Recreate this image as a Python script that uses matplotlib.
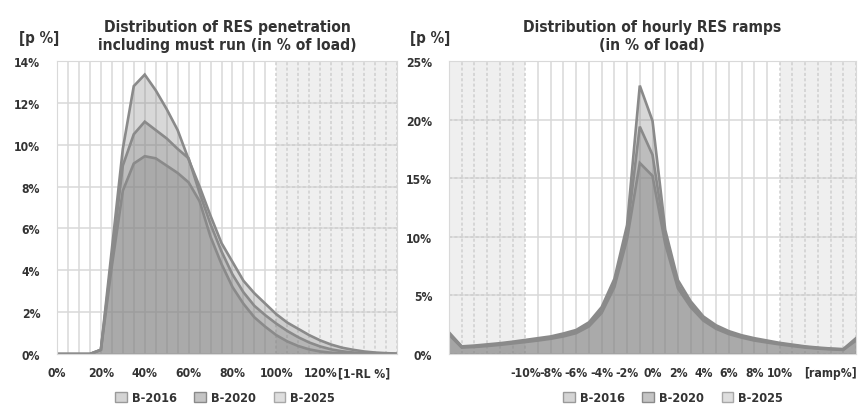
import matplotlib.pyplot as plt
from matplotlib import font_manager
from matplotlib.patches import Patch

# pick a narrow font if one is installed
names = {f.name for f in font_manager.fontManager.ttflist}
condensed = [f for f in font_manager.fontManager.ttflist
             if f.name == 'DejaVu Sans' and f.stretch == 'condensed']
if 'Liberation Sans Narrow' in names:
    fam, stretch, scale = 'Liberation Sans Narrow', 'normal', 1.0
elif condensed:
    fam, stretch, scale = 'DejaVu Sans', 'condensed', 0.95
else:
    fam, stretch, scale = 'Roboto', 'normal', 0.92
plt.rcParams['font.family'] = [fam, 'DejaVu Sans']
plt.rcParams['font.stretch'] = stretch
plt.rcParams['font.weight'] = 'bold'

# Left panel: RES penetration (in % of load), 5% bins
pen_x = [0, 5, 10, 15, 20, 25, 30, 35, 40, 45, 50, 55, 60, 65, 70, 75,
         80, 85, 90, 95, 100, 105, 110, 115, 120, 125, 130, 135, 140, 145, 150, 155]
pen_2016 = [0, 0, 0, 0, 0.2, 4.2, 7.8, 9.1, 9.45, 9.35, 9.0, 8.65, 8.2, 7.3, 5.6, 4.3,
            3.2, 2.4, 1.75, 1.3, 0.9, 0.6, 0.38, 0.22, 0.12, 0.06, 0.03, 0.01, 0, 0, 0, 0]
pen_2020 = [0, 0, 0, 0, 0.2, 4.6, 9.0, 10.5, 11.1, 10.7, 10.3, 9.8, 9.35, 7.7, 6.2, 4.9,
            3.8, 2.95, 2.3, 1.85, 1.45, 1.1, 0.8, 0.55, 0.36, 0.22, 0.13, 0.07, 0.04, 0.02, 0.01, 0]
pen_2025 = [0, 0, 0, 0, 0.2, 5.0, 9.8, 12.8, 13.35, 12.6, 11.7, 10.7, 9.3, 8.0, 6.6, 5.3,
            4.4, 3.5, 2.9, 2.4, 1.9, 1.5, 1.2, 0.9, 0.65, 0.45, 0.3, 0.2, 0.12, 0.07, 0.04, 0.02]
pen_ticks = [0, 20, 40, 60, 80, 100, 120, 140]
pen_labels = ['0%', '20%', '40%', '60%', '80%', '100%', '120%', '[1-RL %]']

# Right panel: hourly RES ramps (in % of load), 1% bins
ramp_x = list(range(-16, 17))
ramp_2016 = [1.65, 0.55, 0.6, 0.68, 0.78, 0.9, 1.02, 1.15, 1.3, 1.5, 1.78, 2.35, 3.5, 5.7, 9.8, 16.3,
             15.2, 9.4, 5.6, 4.0, 2.85, 2.15, 1.7, 1.4, 1.15, 0.98, 0.82, 0.68, 0.55, 0.46, 0.4, 0.35, 1.15]
ramp_2020 = [1.75, 0.6, 0.66, 0.75, 0.85, 0.97, 1.1, 1.25, 1.4, 1.62, 1.9, 2.5, 3.7, 6.0, 10.4, 19.4,
             17.0, 10.0, 5.9, 4.2, 3.0, 2.3, 1.82, 1.5, 1.25, 1.06, 0.88, 0.74, 0.6, 0.5, 0.43, 0.38, 1.25]
ramp_2025 = [1.85, 0.65, 0.72, 0.82, 0.92, 1.05, 1.2, 1.35, 1.5, 1.75, 2.05, 2.7, 4.0, 6.4, 11.0, 22.9,
             19.9, 10.6, 6.3, 4.5, 3.2, 2.45, 1.95, 1.6, 1.35, 1.15, 0.95, 0.8, 0.65, 0.55, 0.47, 0.42, 1.35]
ramp_ticks = [-10, -8, -6, -4, -2, 0, 2, 4, 6, 8, 10, 14]
ramp_labels = ['-10%', '-8%', '-6%', '-4%', '-2%', '0%', '2%', '4%', '6%', '8%', '10%', '[ramp%]']

series = ['B-2016', 'B-2020', 'B-2025']
grid_c = '#d9d9d9'
shade_c = '#efefef'
line_c = '#8a8a8a'
text_c = '#333333'

W, H = 859, 406
fig = plt.figure(figsize=(W / 100, H / 100), dpi=100)


def px_axes(x0, x1, y0, y1):
    return fig.add_axes([x0 / W, 1 - y1 / H, (x1 - x0) / W, (y1 - y0) / H])


def draw_panel(ax, x, ys, xlim, ylim, ystep, vstep, shade, xticks, xlabels):
    ax.set_xlim(*xlim)
    ax.set_ylim(0, ylim)
    # background shading of extreme ranges
    for a, b in shade:
        ax.axvspan(a, b, color=shade_c, zorder=0, lw=0)

    def in_shade(v):
        return any(a <= v <= b for a, b in shade)

    v = xlim[0]
    while v <= xlim[1] + 1e-9:
        ls = (0, (2, 1.5)) if in_shade(v) else '-'
        c = '#cfcfcf' if in_shade(v) else grid_c
        ax.axvline(v, color=c, lw=1.1, ls=ls, zorder=0.5)
        v += vstep
    for yv in range(0, ylim + 1, ystep):
        ax.axhline(yv, color=grid_c, lw=1.1, zorder=0.5)
        for a, b in shade:
            ax.hlines(yv, a, b, color='#cfcfcf', lw=1.1, ls=(0, (2, 1.5)), zorder=0.6)

    for y in ys[::-1]:
        ax.fill_between(x, y, 0, facecolor='#808080', alpha=0.3, lw=0, zorder=1)
    for y in ys[::-1]:
        ax.plot(x, y, color=line_c, lw=1.9, zorder=2, solid_joinstyle='miter')

    ax.set_yticks(range(0, ylim + 1, ystep))
    ax.set_yticklabels([f'{t}%' for t in range(0, ylim + 1, ystep)])
    ax.set_xticks(xticks)
    ax.set_xticklabels(xlabels)
    ax.tick_params(length=0, labelsize=9.2 * scale, colors=text_c)
    ax.tick_params(axis='y', pad=12)
    ax.tick_params(axis='x', pad=9)
    for s in ax.spines.values():
        s.set_color(grid_c)


ax1 = px_axes(57, 397, 62, 355)
draw_panel(ax1, pen_x, [pen_2016, pen_2020, pen_2025], (0, 155), 14, 2, 5,
           [(100, 155)], pen_ticks, pen_labels)

ax2 = px_axes(449, 856, 62, 355)
draw_panel(ax2, ramp_x, [ramp_2016, ramp_2020, ramp_2025], (-16, 16), 25, 5, 1,
           [(-16, -10), (10, 16)], ramp_ticks, ramp_labels)

fig.text(227 / W, 1 - 36.5 / H, 'Distribution of RES penetration\nincluding must run (in % of load)',
         ha='center', va='center', fontsize=11.8 * scale, color=text_c, linespacing=1.3)
fig.text(652 / W, 1 - 36.5 / H, 'Distribution of hourly RES ramps\n(in % of load)',
         ha='center', va='center', fontsize=11.8 * scale, color=text_c, linespacing=1.3)
fig.text(39 / W, 1 - 38 / H, '[p %]', ha='center', va='center', fontsize=11.5 * scale, color=text_c)
fig.text(430 / W, 1 - 38 / H, '[p %]', ha='center', va='center', fontsize=11.5 * scale, color=text_c)

handles = [Patch(facecolor='#d4d4d4', edgecolor='#9a9a9a', lw=1),
           Patch(facecolor='#c4c4c4', edgecolor='#8a8a8a', lw=1),
           Patch(facecolor='#dedede', edgecolor='#a8a8a8', lw=1)]
for cx in (225, 673):
    fig.legend(handles, series, loc='center', bbox_to_anchor=(cx / W, 1 - 399 / H),
               ncol=3, frameon=False, fontsize=9.6 * scale, handlelength=0.9, handleheight=0.9,
               handletextpad=0.4, columnspacing=1.4, labelcolor=text_c)

fig.savefig('out.png', dpi=100)
